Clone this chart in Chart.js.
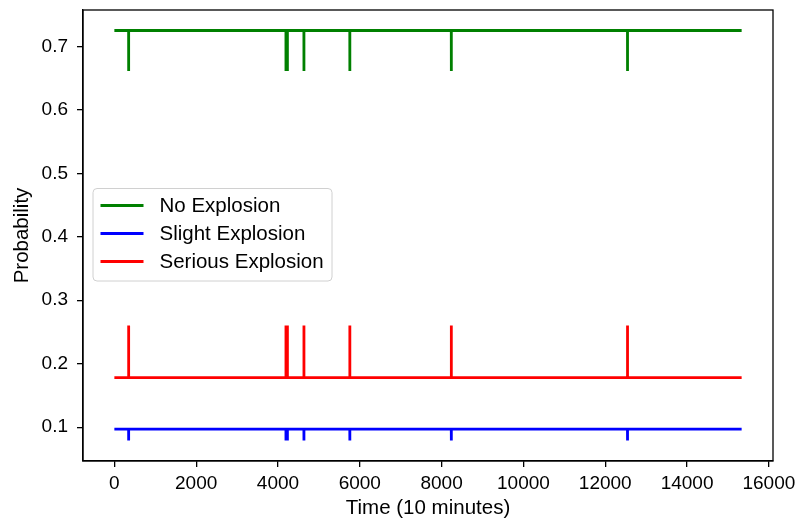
<!DOCTYPE html>
<html><head><meta charset="utf-8">
<script src="https://cdn.jsdelivr.net/npm/chart.js@4.4.1/dist/chart.umd.min.js"></script>
<style>html,body{margin:0;padding:0;background:#fff;}#wrap{width:798px;height:523px;position:relative;}</style>
</head><body><div id="wrap"><canvas id="c" width="798" height="523"></canvas></div>
<script>
// ---- data ----
const seriesNames = ['No Explosion', 'Slight Explosion', 'Serious Explosion'];
const seriesColors = ['#008000', '#0000ff', '#ff0000'];
const eventTimes = [349, 4195, 4230, 4634, 5756, 8237, 12544];
const startTime = 0;
const endTime = 15334;
const baseValues = [0.725, 0.097, 0.178];
const eventValues = [0.661, 0.079, 0.260];
const xTickValues = [0, 2000, 4000, 6000, 8000, 10000, 12000, 14000, 16000];
const yTickValues = [0.1, 0.2, 0.3, 0.4, 0.5, 0.6, 0.7];

// ---- build series ----
function buildSeries(base, ev) {
  const pts = [{x: startTime, y: base}];
  eventTimes.forEach(t => {
    pts.push({x: t - 1, y: base});
    pts.push({x: t, y: ev});
    pts.push({x: t + 1, y: base});
  });
  pts.push({x: endTime, y: base});
  return pts;
}
const datasets = seriesNames.map((name, i) => ({
  label: name,
  data: buildSeries(baseValues[i], eventValues[i]),
  borderColor: seriesColors[i],
  backgroundColor: seriesColors[i],
  borderWidth: 2.8,
  pointRadius: 0,
  tension: 0,
  fill: false,
  order: 3 - i
}));

// axis limits with 5% margins like matplotlib
const xr = endTime - startTime;
const xMin = startTime - 0.05 * xr, xMax = endTime + 0.05 * xr;
const allY = baseValues.concat(eventValues);
const yLo = Math.min(...allY), yHi = Math.max(...allY), yr = yHi - yLo;
const yMin = yLo - 0.05 * yr, yMax = yHi + 0.05 * yr;

const FAMILY = '"Liberation Sans", Arial, sans-serif';
const TICK_FONT = {family: FAMILY, size: 19};
const LABEL_FONT = {family: FAMILY, size: 20.5};

const framePlugin = {
  id: 'frame',
  afterDatasetsDraw(chart) {
    const {ctx, chartArea: a} = chart;
    ctx.save();
    ctx.strokeStyle = '#000';
    ctx.lineWidth = 1.3;
    ctx.strokeRect(a.left, a.top, a.right - a.left, a.bottom - a.top);
    ctx.restore();
  }
};

const legendPlugin = {
  id: 'insideLegend',
  afterDraw(chart) {
    const {ctx, chartArea: a} = chart;
    const x0 = a.left + 10, y0 = 188.5, w = 239, h = 92.5, r = 4;
    ctx.save();
    ctx.beginPath();
    ctx.moveTo(x0 + r, y0);
    ctx.arcTo(x0 + w, y0, x0 + w, y0 + h, r);
    ctx.arcTo(x0 + w, y0 + h, x0, y0 + h, r);
    ctx.arcTo(x0, y0 + h, x0, y0, r);
    ctx.arcTo(x0, y0, x0 + w, y0, r);
    ctx.closePath();
    ctx.fillStyle = 'rgba(255,255,255,0.8)';
    ctx.fill();
    ctx.strokeStyle = '#d0d0d0';
    ctx.lineWidth = 1;
    ctx.stroke();
    ctx.font = LABEL_FONT.size + 'px ' + FAMILY;
    ctx.textBaseline = 'middle';
    ctx.textAlign = 'left';
    chart.data.datasets.forEach((ds, i) => {
      const yy = y0 + 17 + i * 28;
      ctx.strokeStyle = ds.borderColor;
      ctx.lineWidth = 2.8;
      ctx.beginPath();
      ctx.moveTo(x0 + 7.5, yy);
      ctx.lineTo(x0 + 50.5, yy);
      ctx.stroke();
      ctx.fillStyle = '#000';
      ctx.fillText(ds.label, x0 + 66.5, yy + 1);
    });
    ctx.restore();
  }
};

new Chart(document.getElementById('c'), {
  type: 'line',
  data: {datasets},
  plugins: [framePlugin, legendPlugin],
  options: {
    responsive: false,
    animation: false,
    devicePixelRatio: 1,
    layout: {padding: {top: 10, right: 25, left: 0, bottom: 0}},
    plugins: {legend: {display: false}, tooltip: {enabled: false}},
    scales: {
      x: {
        type: 'linear', min: xMin, max: xMax,
        afterBuildTicks: s => { s.ticks = xTickValues.map(v => ({value: v})); },
        afterFit: s => { s.height = 62; s.paddingLeft = 0; s.paddingRight = 0; },
        ticks: {font: TICK_FONT, color: '#000', padding: 5, maxRotation: 0, autoSkip: false, callback: v => String(v)},
        grid: {display: true, drawOnChartArea: false, drawTicks: true, tickLength: 6, color: '#000', lineWidth: 1.3},
        border: {display: true, color: '#000', width: 1.3},
        title: {display: true, text: 'Time (10 minutes)', font: LABEL_FONT, color: '#000', padding: {top: 0, bottom: 2}}
      },
      y: {
        type: 'linear', min: yMin, max: yMax,
        afterBuildTicks: s => { s.ticks = yTickValues.map(v => ({value: v})); },
        afterFit: s => { s.width = 83; s.paddingTop = 0; s.paddingBottom = 0; },
        ticks: {font: TICK_FONT, color: '#000', padding: 9, autoSkip: false, callback: v => v.toFixed(1)},
        grid: {display: true, drawOnChartArea: false, drawTicks: true, tickLength: 6, color: '#000', lineWidth: 1.3},
        border: {display: true, color: '#000', width: 1.3},
        title: {display: true, text: 'Probability', font: LABEL_FONT, color: '#000', padding: {top: 10, bottom: 0}}
      }
    }
  }
});
</script>
</body></html>
